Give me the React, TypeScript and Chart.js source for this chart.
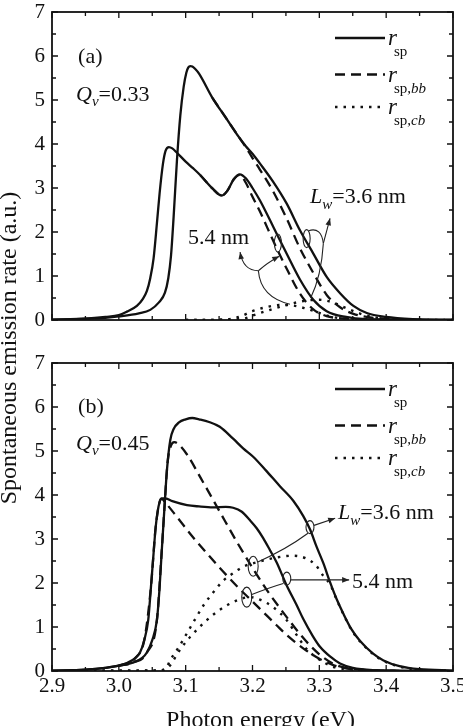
import { useEffect, useRef } from 'react';
import { Chart, registerables } from 'chart.js';
Chart.register(...registerables);

const SERIF = "'Liberation Serif', 'Times New Roman', Times, serif";
const INK = '#111';

type Pt = [number, number];

// ---- axes ----
const xTickValues = [2.9, 3.0, 3.1, 3.2, 3.3, 3.4, 3.5];
const xTickLabels = ['2.9', '3.0', '3.1', '3.2', '3.3', '3.4', '3.5'];
const yTickValues = [0, 1, 2, 3, 4, 5, 6, 7];
const yTickLabels = ['0', '1', '2', '3', '4', '5', '6', '7'];

// ---- panel (a): Qv = 0.33 ----
const a_sp_54: Pt[] = [[2.90,0.01],[2.95,0.03],[2.98,0.07],[3.00,0.11],[3.012,0.19],[3.027,0.32],[3.036,0.48],[3.042,0.66],[3.047,0.95],[3.052,1.40],[3.057,2.20],[3.061,2.88],[3.066,3.55],[3.070,3.85],[3.075,3.93],[3.080,3.90],[3.087,3.80],[3.100,3.60],[3.111,3.45],[3.122,3.29],[3.140,2.99],[3.154,2.83],[3.162,2.93],[3.172,3.20],[3.181,3.31],[3.190,3.22],[3.200,3.00],[3.211,2.72],[3.231,2.12],[3.251,1.51],[3.271,0.92],[3.291,0.46],[3.311,0.20],[3.340,0.07],[3.370,0.02],[3.420,0.01],[3.500,0.00]];
const a_bb_54: Pt[] = [[3.122,3.29],[3.140,2.99],[3.154,2.83],[3.162,2.93],[3.172,3.20],[3.181,3.30],[3.190,3.12],[3.200,2.80],[3.211,2.47],[3.231,1.80],[3.251,1.17],[3.271,0.60],[3.291,0.24],[3.311,0.09],[3.340,0.03],[3.370,0.01],[3.420,0.00],[3.500,0.00]];
const a_cb_54: Pt[] = [[3.10,0.00],[3.16,0.01],[3.18,0.07],[3.20,0.20],[3.22,0.29],[3.24,0.34],[3.26,0.33],[3.28,0.26],[3.30,0.16],[3.32,0.07],[3.35,0.02],[3.40,0.00]];
const a_sp_36: Pt[] = [[2.90,0.01],[2.95,0.03],[2.98,0.05],[3.00,0.08],[3.030,0.15],[3.047,0.23],[3.060,0.40],[3.069,0.62],[3.074,0.95],[3.078,1.45],[3.082,2.35],[3.087,3.64],[3.092,4.65],[3.097,5.30],[3.101,5.62],[3.104,5.74],[3.107,5.77],[3.110,5.76],[3.114,5.71],[3.120,5.60],[3.140,5.05],[3.160,4.60],[3.180,4.15],[3.190,3.95],[3.200,3.78],[3.211,3.56],[3.231,3.14],[3.251,2.65],[3.271,2.04],[3.291,1.51],[3.311,0.98],[3.331,0.61],[3.351,0.32],[3.371,0.16],[3.400,0.07],[3.440,0.02],[3.500,0.00]];
const a_bb_36: Pt[] = [[3.140,5.05],[3.160,4.60],[3.180,4.15],[3.190,3.93],[3.200,3.68],[3.211,3.42],[3.231,2.92],[3.251,2.31],[3.271,1.63],[3.291,1.07],[3.311,0.57],[3.331,0.29],[3.351,0.14],[3.371,0.07],[3.400,0.03],[3.440,0.01],[3.500,0.00]];
const a_cb_36: Pt[] = [[3.10,0.00],[3.17,0.01],[3.19,0.04],[3.20,0.10],[3.22,0.20],[3.25,0.34],[3.28,0.44],[3.30,0.46],[3.32,0.40],[3.34,0.27],[3.36,0.15],[3.38,0.07],[3.41,0.02],[3.45,0.00]];

// ---- panel (b): Qv = 0.45 ----
const b_sp_54: Pt[] = [[2.90,0.01],[2.95,0.03],[2.98,0.07],[3.00,0.12],[3.012,0.18],[3.025,0.30],[3.032,0.43],[3.038,0.70],[3.044,1.16],[3.048,1.90],[3.052,2.68],[3.055,3.25],[3.058,3.62],[3.061,3.84],[3.064,3.92],[3.070,3.92],[3.080,3.86],[3.102,3.77],[3.120,3.74],[3.141,3.72],[3.160,3.73],[3.171,3.71],[3.184,3.62],[3.196,3.43],[3.206,3.25],[3.216,3.02],[3.226,2.75],[3.236,2.47],[3.251,1.95],[3.266,1.50],[3.276,1.18],[3.290,0.80],[3.301,0.55],[3.316,0.33],[3.331,0.17],[3.350,0.07],[3.380,0.02],[3.420,0.01],[3.500,0.00]];
const b_bb_54: Pt[] = [[3.000,0.12],[3.025,0.30],[3.038,0.70],[3.048,1.90],[3.055,3.25],[3.061,3.84],[3.064,3.91],[3.070,3.82],[3.087,3.50],[3.111,3.04],[3.136,2.60],[3.156,2.26],[3.181,1.86],[3.196,1.64],[3.216,1.34],[3.236,1.04],[3.251,0.82],[3.266,0.63],[3.281,0.46],[3.300,0.28],[3.320,0.14],[3.340,0.06],[3.370,0.02],[3.420,0.00]];
const b_cb_54: Pt[] = [[2.95,0.00],[3.060,0.01],[3.075,0.10],[3.090,0.45],[3.107,0.78],[3.132,1.16],[3.151,1.39],[3.176,1.60],[3.196,1.68],[3.211,1.62],[3.231,1.45],[3.251,1.16],[3.266,0.82],[3.281,0.50],[3.301,0.25],[3.320,0.10],[3.350,0.03],[3.400,0.00]];
const b_sp_36: Pt[] = [[2.90,0.01],[2.95,0.03],[2.98,0.07],[3.000,0.12],[3.021,0.19],[3.035,0.30],[3.042,0.42],[3.050,0.70],[3.057,1.16],[3.061,1.90],[3.064,2.68],[3.067,3.40],[3.069,3.89],[3.072,4.57],[3.077,5.25],[3.082,5.50],[3.090,5.65],[3.100,5.72],[3.110,5.75],[3.120,5.72],[3.135,5.66],[3.151,5.55],[3.171,5.28],[3.186,5.06],[3.201,4.87],[3.220,4.56],[3.241,4.20],[3.261,3.87],[3.276,3.52],[3.286,3.22],[3.296,2.82],[3.306,2.45],[3.316,2.02],[3.326,1.63],[3.336,1.30],[3.348,0.95],[3.361,0.68],[3.380,0.40],[3.396,0.24],[3.420,0.11],[3.450,0.04],[3.500,0.01]];
const b_bb_36: Pt[] = [[3.000,0.12],[3.021,0.19],[3.042,0.42],[3.057,1.16],[3.064,2.68],[3.069,3.89],[3.073,4.75],[3.078,5.12],[3.083,5.20],[3.088,5.17],[3.102,4.92],[3.122,4.40],[3.151,3.62],[3.176,2.95],[3.201,2.32],[3.221,1.85],[3.240,1.45],[3.260,1.05],[3.280,0.68],[3.300,0.38],[3.320,0.17],[3.340,0.07],[3.370,0.02],[3.420,0.00]];
const b_cb_36: Pt[] = [[2.95,0.01],[3.060,0.01],[3.070,0.05],[3.077,0.25],[3.090,0.55],[3.102,0.86],[3.115,1.20],[3.127,1.50],[3.142,1.80],[3.156,2.05],[3.171,2.22],[3.186,2.37],[3.206,2.47],[3.236,2.58],[3.260,2.62],[3.280,2.56],[3.295,2.40],[3.306,2.16],[3.316,1.97],[3.326,1.62],[3.336,1.29],[3.348,0.94],[3.361,0.67],[3.380,0.39],[3.396,0.23],[3.420,0.10],[3.450,0.03],[3.500,0.01]];

// ---- annotation anchors (data coordinates: eV, a.u.) ----
const annA = {
  panel: [2.939, 5.85] as Pt,
  qv: [2.936, 4.98] as Pt,
  nm54: [3.1036, 1.73] as Pt,
  lw: [3.2862, 2.67] as Pt,
  tip54: [3.1814, 1.545] as Pt, j54: [3.2088, 1.12] as Pt, c54: [3.186, 1.12] as Pt,
  up54: [3.240, 1.45] as Pt, cup54: [3.222, 1.30] as Pt,
  dn54: [3.256, 0.36] as Pt, cdn54: [3.212, 0.52] as Pt,
  ell54: [3.238, 1.75] as Pt,
  tip36: [3.316, 2.31] as Pt, j36: [3.306, 1.74] as Pt,
  loop36: [3.284, 2.03] as Pt, cloop36: [3.303, 2.12] as Pt,
  dn36: [3.287, 0.50] as Pt, cdn36: [3.303, 1.0] as Pt,
  ell36: [3.281, 1.85] as Pt,
};
const annB = {
  panel: [2.939, 5.86] as Pt,
  qv: [2.936, 5.02] as Pt,
  lw: [3.328, 3.45] as Pt,
  nm54: [3.349, 1.89] as Pt,
  e1: [3.286, 3.27] as Pt, e2: [3.201, 2.38] as Pt, e3: [3.2513, 2.10] as Pt, e4: [3.1914, 1.68] as Pt,
  l36a: [3.208, 2.48] as Pt, l36c: [3.25, 2.76] as Pt, l36b: [3.283, 3.13] as Pt,
  l36s: [3.292, 3.31] as Pt, l36tip: [3.3237, 3.47] as Pt,
  l54a: [3.199, 1.74] as Pt, l54c: [3.226, 1.90] as Pt, l54b: [3.246, 1.99] as Pt,
  l54s: [3.257, 2.07] as Pt, l54tip: [3.3446, 2.07] as Pt,
};

type Part = { t: string; italic?: boolean; sub?: boolean; dx?: number };

function rich(ctx: CanvasRenderingContext2D, x: number, y: number, parts: Part[], size: number, subSize: number, subDy: number) {
  let cx = x;
  ctx.textAlign = 'left';
  ctx.textBaseline = 'alphabetic';
  for (const p of parts) {
    const fs = p.sub ? subSize : size;
    ctx.font = `${p.italic ? 'italic ' : ''}${fs}px ${SERIF}`;
    ctx.fillText(p.t, cx, y + (p.sub ? subDy : 0));
    cx += ctx.measureText(p.t).width + (p.dx || 0);
  }
}

function arrowHead(ctx: CanvasRenderingContext2D, from: Pt, tip: Pt) {
  const a = Math.atan2(tip[1] - from[1], tip[0] - from[0]);
  const len = 7, half = 2.8;
  ctx.beginPath();
  ctx.moveTo(tip[0], tip[1]);
  ctx.lineTo(tip[0] - len * Math.cos(a) + half * Math.sin(a), tip[1] - len * Math.sin(a) - half * Math.cos(a));
  ctx.lineTo(tip[0] - len * Math.cos(a) - half * Math.sin(a), tip[1] - len * Math.sin(a) + half * Math.cos(a));
  ctx.closePath();
  ctx.fill();
}

function quad(ctx: CanvasRenderingContext2D, p0: Pt, c: Pt, p1: Pt, arrow = false) {
  ctx.beginPath();
  ctx.moveTo(p0[0], p0[1]);
  ctx.quadraticCurveTo(c[0], c[1], p1[0], p1[1]);
  ctx.stroke();
  if (arrow) arrowHead(ctx, c, p1);
}

function ell(ctx: CanvasRenderingContext2D, c: Pt, rx: number, ry: number) {
  ctx.beginPath();
  ctx.ellipse(c[0], c[1], rx, ry, 0, 0, Math.PI * 2);
  ctx.stroke();
}

const decor = {
  id: 'decor',
  afterDraw(chart: any) {
    const ctx: CanvasRenderingContext2D = chart.ctx;
    const xs = chart.scales.x;
    const yA = chart.scales.yA;
    const yB = chart.scales.yB;
    ctx.save();
    ctx.strokeStyle = INK;
    ctx.fillStyle = INK;

    // frames + inward ticks
    const xv: number[] = xs.ticks.map((t: any) => t.value);
    const yv: number[] = yA.ticks.map((t: any) => t.value);
    for (const ys of [yA, yB]) {
      const l = xs.left, r = xs.right, t = ys.top, b = ys.bottom;
      ctx.lineWidth = 1.3;
      const xt = (v: number, len: number) => {
        const p = xs.getPixelForValue(v);
        ctx.beginPath();
        ctx.moveTo(p, b); ctx.lineTo(p, b - len);
        ctx.moveTo(p, t); ctx.lineTo(p, t + len);
        ctx.stroke();
      };
      const yt = (v: number, len: number) => {
        const p = ys.getPixelForValue(v);
        ctx.beginPath();
        ctx.moveTo(l, p); ctx.lineTo(l + len, p);
        ctx.moveTo(r, p); ctx.lineTo(r - len, p);
        ctx.stroke();
      };
      xv.forEach((v, i) => { xt(v, 6); if (i < xv.length - 1) xt((v + xv[i + 1]) / 2, 4); });
      yv.forEach((v, i) => { yt(v, 6); if (i < yv.length - 1) yt((v + yv[i + 1]) / 2, 4); });
      ctx.lineWidth = 1.8;
      ctx.strokeRect(l, t, r - l, b - t);
    }

    const P = (ys: any, p: Pt): Pt => [xs.getPixelForValue(p[0]), ys.getPixelForValue(p[1])];

    // legends
    for (const ys of [yA, yB]) {
      const x0 = xs.right - 118, x1 = xs.right - 68, tx = xs.right - 65;
      const rows: { dash: number[]; dy: number; sub: Part[] }[] = [
        { dash: [], dy: 26, sub: [{ t: 'sp', sub: true }] },
        { dash: [10, 6], dy: 62.5, sub: [{ t: 'sp,', sub: true }, { t: 'bb', sub: true, italic: true }] },
        { dash: [2.5, 6], dy: 95, sub: [{ t: 'sp,', sub: true }, { t: 'cb', sub: true, italic: true }] },
      ];
      for (const row of rows) {
        const yy = ys.top + row.dy;
        ctx.lineWidth = 2.4;
        ctx.setLineDash(row.dash);
        ctx.beginPath(); ctx.moveTo(x0, yy); ctx.lineTo(x1, yy); ctx.stroke();
        ctx.setLineDash([]);
        rich(ctx, tx, yy + 7, [{ t: 'r', italic: true, dx: -3 }, ...row.sub], 23, 15, 11);
      }
    }

    // panel texts
    rich(ctx, ...P(yA, annA.panel), [{ t: '(a)' }], 22, 15, 5);
    rich(ctx, ...P(yA, annA.qv), [{ t: 'Q', italic: true }, { t: 'v', italic: true, sub: true }, { t: '=0.33' }], 22, 15, 5);
    rich(ctx, ...P(yA, annA.nm54), [{ t: '5.4 nm' }], 22, 15, 5);
    rich(ctx, ...P(yA, annA.lw), [{ t: 'L', italic: true }, { t: 'w', italic: true, sub: true }, { t: '=3.6 nm' }], 22, 15, 6);
    rich(ctx, ...P(yB, annB.panel), [{ t: '(b)' }], 22, 15, 5);
    rich(ctx, ...P(yB, annB.qv), [{ t: 'Q', italic: true }, { t: 'v', italic: true, sub: true }, { t: '=0.45' }], 22, 15, 5);
    rich(ctx, ...P(yB, annB.lw), [{ t: 'L', italic: true }, { t: 'w', italic: true, sub: true }, { t: '=3.6 nm' }], 22, 15, 6);
    rich(ctx, ...P(yB, annB.nm54), [{ t: '5.4 nm' }], 22, 15, 5);

    // annotation lines (a)
    ctx.lineWidth = 1.1;
    ctx.strokeStyle = '#222';
    ctx.fillStyle = '#222';
    quad(ctx, P(yA, annA.j54), P(yA, annA.c54), P(yA, annA.tip54), true);
    quad(ctx, P(yA, annA.j54), P(yA, annA.cup54), P(yA, annA.up54), true);
    quad(ctx, P(yA, annA.j54), P(yA, annA.cdn54), P(yA, annA.dn54));
    ell(ctx, P(yA, annA.ell54), 3.5, 9);
    const j36 = P(yA, annA.j36), t36 = P(yA, annA.tip36);
    quad(ctx, j36, [(j36[0] + t36[0]) / 2, (j36[1] + t36[1]) / 2], t36, true);
    quad(ctx, j36, P(yA, annA.cloop36), P(yA, annA.loop36));
    quad(ctx, j36, P(yA, annA.cdn36), P(yA, annA.dn36));
    ell(ctx, P(yA, annA.ell36), 3.5, 9);

    // annotation lines (b)
    ell(ctx, P(yB, annB.e1), 4, 6.5);
    ell(ctx, P(yB, annB.e2), 5, 10);
    ell(ctx, P(yB, annB.e3), 4, 6.5);
    ell(ctx, P(yB, annB.e4), 5, 10);
    quad(ctx, P(yB, annB.l36a), P(yB, annB.l36c), P(yB, annB.l36b));
    const s36 = P(yB, annB.l36s), tp36 = P(yB, annB.l36tip);
    quad(ctx, s36, [(s36[0] + tp36[0]) / 2, (s36[1] + tp36[1]) / 2], tp36, true);
    quad(ctx, P(yB, annB.l54a), P(yB, annB.l54c), P(yB, annB.l54b));
    const s54 = P(yB, annB.l54s), tp54 = P(yB, annB.l54tip);
    quad(ctx, s54, [(s54[0] + tp54[0]) / 2, (s54[1] + tp54[1]) / 2], tp54, true);

    // axis titles
    ctx.fillStyle = INK;
    ctx.font = `24px ${SERIF}`;
    ctx.textAlign = 'center';
    ctx.textBaseline = 'alphabetic';
    ctx.fillText('Photon energy (eV)', (xs.left + xs.right) / 2 + 8, chart.height + 1);
    ctx.save();
    ctx.translate(16, yB.top - 15);
    ctx.rotate(-Math.PI / 2);
    ctx.fillText('Spontaneous emission rate (a.u.)', 0, 0);
    ctx.restore();

    ctx.restore();
  },
};

function ds(data: Pt[], yAxisID: string, dash: number[], width: number) {
  return {
    data: data.map(([x, y]) => ({ x, y })),
    xAxisID: 'x',
    yAxisID,
    borderColor: INK,
    borderWidth: width,
    borderDash: dash,
    borderCapStyle: 'butt',
    pointRadius: 0,
    pointHoverRadius: 0,
    fill: false,
    tension: 0.4,
    cubicInterpolationMode: 'monotone',
  };
}

const SOLID: number[] = [];
const DASH = [10, 6];
const DOT = [2.5, 6];

function yScale(weight: number, show: boolean) {
  return {
    type: 'linear',
    position: 'left',
    stack: 'panels',
    stackWeight: weight,
    min: 0,
    max: 7,
    display: true,
    grid: { display: false, drawTicks: false },
    border: { display: false },
    afterBuildTicks: (s: any) => { s.ticks = yTickValues.map((v) => ({ value: v })); },
    ticks: {
      display: show,
      autoSkip: false,
      padding: 7,
      color: INK,
      font: { family: SERIF, size: 21 },
      callback: (_v: any, i: number) => yTickLabels[i],
    },
    afterFit: (s: any) => { s.width = 52; s.paddingTop = 0; s.paddingBottom = 0; },
  };
}

export default function App() {
  const ref = useRef<HTMLCanvasElement>(null);
  useEffect(() => {
    document.body.style.margin = '0';
    const chart = new Chart(ref.current as HTMLCanvasElement, {
      type: 'line',
      data: {
        datasets: [
          ds(a_sp_54, 'yA', SOLID, 2.3),
          ds(a_sp_36, 'yA', SOLID, 2.3),
          ds(a_bb_54, 'yA', DASH, 2.3),
          ds(a_bb_36, 'yA', DASH, 2.3),
          ds(a_cb_54, 'yA', DOT, 2.4),
          ds(a_cb_36, 'yA', DOT, 2.4),
          ds(b_sp_54, 'yB', SOLID, 2.3),
          ds(b_sp_36, 'yB', SOLID, 2.3),
          ds(b_bb_54, 'yB', DASH, 2.3),
          ds(b_bb_36, 'yB', DASH, 2.3),
          ds(b_cb_54, 'yB', DOT, 2.4),
          ds(b_cb_36, 'yB', DOT, 2.4),
        ] as any,
      },
      options: {
        animation: false,
        responsive: false,
        devicePixelRatio: 1,
        events: [],
        layout: { padding: { top: 12, right: 10, left: 0, bottom: 0 } },
        plugins: { legend: { display: false }, title: { display: false }, tooltip: { enabled: false } },
        scales: {
          x: {
            type: 'linear',
            position: 'bottom',
            min: 2.9,
            max: 3.5,
            grid: { display: false, drawTicks: false },
            border: { display: false },
            afterBuildTicks: (s: any) => { s.ticks = xTickValues.map((v) => ({ value: v })); },
            ticks: {
              autoSkip: false,
              maxRotation: 0,
              padding: 3,
              color: INK,
              font: { family: SERIF, size: 21 },
              callback: (_v: any, i: number) => xTickLabels[i],
            },
            afterFit: (s: any) => { s.height = 55; s.paddingLeft = 0; s.paddingRight = 0; },
          },
          yB: yScale(308, true),
          yGap: { ...yScale(43, false), grid: { display: false, drawTicks: false } },
          yA: yScale(308, true),
        } as any,
      },
      plugins: [decor as any],
    });
    return () => chart.destroy();
  }, []);
  return (
    <div style={{ position: 'fixed', left: 0, top: 0, width: 463, height: 726, background: '#fff', overflow: 'hidden' }}>
      <canvas ref={ref} width={463} height={726} style={{ display: 'block', width: 463, height: 726 }} />
    </div>
  );
}
